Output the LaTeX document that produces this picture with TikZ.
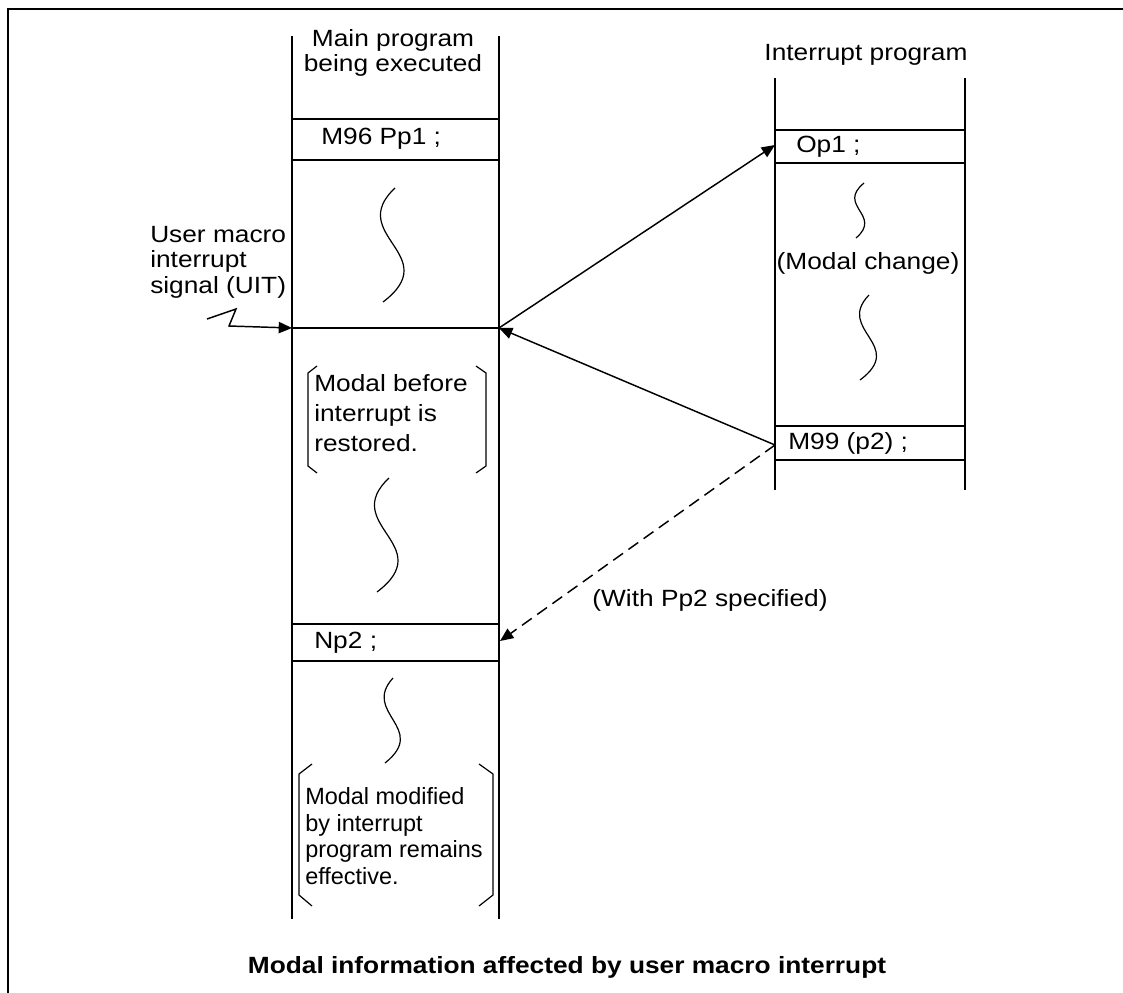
\documentclass[tikz,border=0pt]{standalone}
\usepackage{fontspec}
\setmainfont{Liberation Sans}[FakeStretch=1.12]
\newfontfamily\narrowfont{Liberation Sans}
\usetikzlibrary{arrows.meta}
\begin{document}
\begin{tikzpicture}[x=0.75pt,y=-0.75pt,
  col/.style={line width=1.3pt},
  wavy/.style={line width=0.9pt},
  brk/.style={line width=0.9pt},
  txt/.style={inner sep=0pt,font=\fontsize{17.6}{19.2}\selectfont},
  arr/.style={line width=1.1pt,-{Triangle[length=10pt,width=8.5pt]}},
  darr/.style={arr,dash pattern=on 9pt off 5pt}]
\clip (0,0) rectangle (1123,992);
\fill[white] (0,0) rectangle (1123,992);
% frame
\draw[line width=2.2pt] (8,1000) -- (8,9) -- (1130,9);

% main column
\draw[col] (292,36) -- (292,919);
\draw[col] (499,36) -- (499,919);
\draw[col] (292,119) -- (499,119);
\draw[col] (292,160) -- (499,160);
\draw[col] (292,328) -- (499,328);
\draw[col] (292,624) -- (499,624);
\draw[col] (292,661) -- (499,661);

% interrupt column
\draw[col] (775,78) -- (775,490);
\draw[col] (965,78) -- (965,490);
\draw[col] (775,130) -- (965,130);
\draw[col] (775,163) -- (965,163);
\draw[col] (775,426) -- (965,426);
\draw[col] (775,460) -- (965,460);

% texts
\node[txt,align=center] (maintitle) at (393,53) {Main program\\being executed};
\node[txt,anchor=west] (m96) at (321,139) {M96 Pp1 ;};
\node[txt,anchor=west] (np2) at (314,643) {Np2 ;};
\node[txt] (inttitle) at (866,55) {Interrupt program};
\node[txt,anchor=west] (op1) at (796,147) {Op1 ;};
\node[txt,anchor=west] (m99) at (788,443) {M99 (p2) ;};
\node[txt] (modch) at (868,263) {(Modal change)};
\node[txt,anchor=west,align=left] (uit) at (150,262) {User macro\\interrupt\\signal (UIT)};
\node[txt,anchor=west,align=left,font=\fontsize{17.6}{22.5}\selectfont] (restored) at (314,413) {Modal before\\interrupt is\\restored.};
\node[txt,anchor=west,align=left,font=\narrowfont\fontsize{17.6}{20}\selectfont] (modified) at (305,836) {Modal modified\\by interrupt\\program remains\\effective.};
\node[txt] (withpp2) at (710,600) {(With Pp2 specified)};
\node[txt,font=\fontsize{17.6}{18.75}\selectfont\bfseries] (caption) at (567,967) {Modal information affected by user macro interrupt};

% squiggles
\draw[wavy] (395,188) .. controls (345,235) and (445,255) .. (383,302);
\draw[wavy] (389,478) .. controls (339,525) and (439,545) .. (377,592);
\draw[wavy] (393,678) .. controls (361,713) and (429,728) .. (385,763);
\draw[wavy] (864,183) .. controls (836,206) and (883,215) .. (856,238);
\draw[wavy] (869,295) .. controls (835,330) and (907,345) .. (860,380);

% brackets
\draw[brk] (317,366) -- (308,373) -- (308,466) -- (317,473);
\draw[brk] (476,366) -- (486,373) -- (486,466) -- (476,473);
\draw[brk] (312,764) -- (299,774) -- (299,895) -- (312,906);
\draw[brk] (479,764) -- (493,774) -- (493,895) -- (479,906);

% connector points
\coordinate (mainInt) at (499,328);
\coordinate (mainIn) at (292,328);
\coordinate (op1In) at (775,145);
\coordinate (m99Out) at (775,445);
\coordinate (np2In) at (500,641);
\coordinate (sigA) at (207,319);
\coordinate (sigB) at (236,309);
\coordinate (sigC) at (229,326);

% connectors
\draw[arr] (mainInt) -- (op1In);
\draw[arr] (m99Out) -- (mainInt);
\draw[darr] (m99Out) -- (np2In);
\draw[arr,line join=miter] (sigA) -- (sigB) -- (sigC) -- (mainIn);
\end{tikzpicture}
\end{document}
